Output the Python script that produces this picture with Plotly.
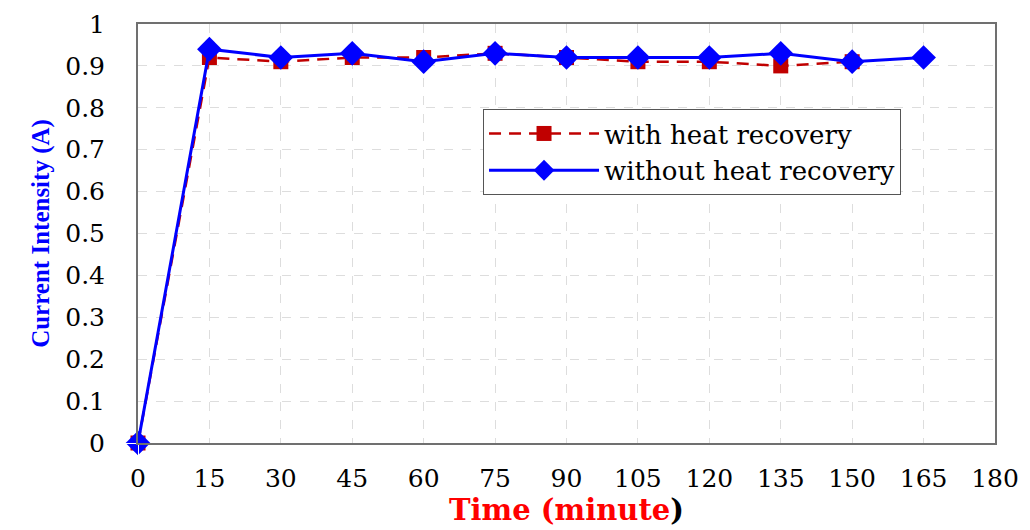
import plotly.graph_objects as go

time_with = [0, 15, 30, 45, 60, 75, 90, 105, 120, 135, 150]
current_with = [0, 0.92, 0.91, 0.92, 0.92, 0.93, 0.92, 0.91, 0.91, 0.90, 0.91]
time_without = [0, 15, 30, 45, 60, 75, 90, 105, 120, 135, 150, 165]
current_without = [0, 0.94, 0.92, 0.93, 0.91, 0.93, 0.92, 0.92, 0.92, 0.93, 0.91, 0.92]
x_ticks = list(range(0, 181, 15))
y_ticks = [0, 0.1, 0.2, 0.3, 0.4, 0.5, 0.6, 0.7, 0.8, 0.9, 1]
y_tick_labels = ["0", "0.1", "0.2", "0.3", "0.4", "0.5", "0.6", "0.7", "0.8", "0.9", "1"]

serif_wide = "DejaVu Serif, serif"
serif = "Liberation Serif, Times New Roman, serif"

fig = go.Figure()
fig.add_trace(go.Scatter(
    x=time_with, y=current_with, mode="lines+markers",
    name="with heat recovery", cliponaxis=False,
    line=dict(color="#C00000", width=2.5, dash="12px,8px"),
    marker=dict(symbol="square", size=15, color="#C00000"),
))
fig.add_trace(go.Scatter(
    x=time_without, y=current_without, mode="lines+markers",
    name="without heat recovery", cliponaxis=False,
    line=dict(color="#0000FF", width=3),
    marker=dict(symbol="diamond", size=19, color="#0000FF"),
))

fig.update_layout(
    width=1030, height=530,
    margin=dict(l=130, r=43, t=16, b=95, autoexpand=False),
    paper_bgcolor="white", plot_bgcolor="white",
    font=dict(family=serif_wide, size=22, color="black"),
    showlegend=True,
    legend=dict(
        x=0.4026, y=0.797, xanchor="left", yanchor="top",
        bordercolor="#555555", borderwidth=1, bgcolor="white",
        font=dict(family=serif_wide, size=26, color="black"),
        tracegroupgap=0, itemwidth=110,
    ),
    xaxis=dict(
        range=[0, 180], tickvals=x_ticks, ticktext=[str(t) for t in x_ticks],
        automargin=False,
        showgrid=True, gridcolor="#DDDDDD", griddash="dash", gridwidth=1,
        showline=True, linecolor="#707070", linewidth=2, mirror=True,
        zeroline=False, ticks="outside", ticklen=12, tickcolor="white",
        tickfont=dict(family=serif_wide, size=25, color="black"),
        title=dict(text="<b>Time (minute<span style='color:black'>)</span></b>",
                   font=dict(family=serif_wide, size=29, color="#FF0000"), standoff=8),
    ),
    yaxis=dict(
        range=[0, 1], tickvals=y_ticks, ticktext=y_tick_labels,
        automargin=False,
        showgrid=True, gridcolor="#DDDDDD", griddash="dash", gridwidth=1,
        showline=True, linecolor="#707070", linewidth=2, mirror=True,
        zeroline=False, ticks="outside", ticklen=26, tickcolor="white",
        tickfont=dict(family=serif_wide, size=25, color="black"),
        title=dict(text="<b>Current Intensity (A)</b>",
                   font=dict(family=serif, size=25, color="#0000FF"), standoff=8),
    ),
)

fig.write_html("out.html")
